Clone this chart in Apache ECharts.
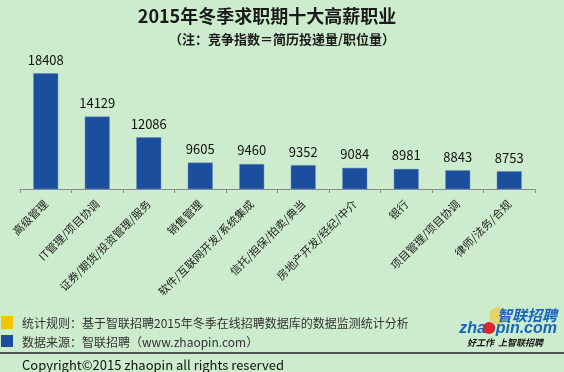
<!DOCTYPE html>
<html><head><meta charset="utf-8">
<script src="https://cdn.jsdelivr.net/npm/echarts@6/dist/echarts.min.js"></script>
<style>html,body{margin:0;padding:0;background:#cdeccd;}#c{width:564px;height:372px;}</style>
</head><body><div id="c"></div>
<script>
const categories = ['高级管理','IT管理/项目协调','证券/期货/投资管理/服务','销售管理','软件/互联网开发/系统集成','信托/担保/拍卖/典当','房地产开发/经纪/中介','银行','项目管理/项目协调','律师/法务/合规'];
const values = [18408,14129,12086,9605,9460,9352,9084,8981,8843,8753];
const titleText = '2015年冬季求职期十大高薪职业';
const subtitleText = '（注：竞争指数＝简历投递量/职位量）';
const footer1 = '统计规则：基于智联招聘2015年冬季在线招聘数据库的数据监测统计分析';
const footer2 = '数据来源：智联招聘（www.zhaopin.com）';
const copyright = 'Copyright©2015 zhaopin all rights reserved';
const F = '"Noto Sans CJK SC", "Noto Sans", sans-serif';
const chart = echarts.init(document.getElementById('c'));
chart.setOption({
  backgroundColor: '#cdeccd',
  animation: false,
  title: [
    {text: titleText, left: 262, textAlign: 'center', top: 2, textStyle: {fontFamily: F, fontSize: 18, fontWeight: 'bold', color: '#1a1a1a'}},
    {text: subtitleText, left: 277, textAlign: 'center', top: 28, textStyle: {fontFamily: F, fontSize: 13, fontWeight: 'bold', color: '#1a1a1a'}}
  ],
  grid: {left: 20, right: 29, top: 57, bottom: 183},
  xAxis: {type: 'category', data: categories, boundaryGap: true,
    axisLine: {lineStyle: {color: '#8a8a8a', width: 1}},
    axisTick: {show: true, lineStyle: {color: '#8a8a8a'}, length: 4},
    axisLabel: {rotate: 45, interval: 0, fontFamily: F, fontSize: 11, color: '#222', margin: 13}},
  yAxis: {type: 'value', min: 7000, max: 20000, show: false, splitLine: {show: false}},
  series: [{type: 'bar', data: values, barWidth: 25,
    itemStyle: {color: '#1b4f9e', borderColor: '#6f8fc4', borderWidth: 0.5},
    label: {show: true, position: 'top', distance: 7, fontFamily: F, fontSize: 13, color: '#111'}}],
  graphic: [
    {type: 'rect', shape: {x: 1, y: 316, width: 12, height: 13}, style: {fill: '#f5c400'}},
    {type: 'rect', shape: {x: 1, y: 335, width: 12, height: 12}, style: {fill: '#1b4f9e'}},
    {type: 'text', x: 22, y: 323, style: {text: footer1, font: '12px ' + F, fill: '#333', textVerticalAlign: 'middle'}},
    {type: 'text', x: 22, y: 342, style: {text: footer2, font: '12px ' + F, fill: '#333', textVerticalAlign: 'middle'}},
    {type: 'line', shape: {x1: 0, y1: 353, x2: 564, y2: 353}, style: {stroke: '#222', lineWidth: 1.5}},
    {type: 'text', x: 22, y: 365, style: {text: copyright, font: '13px ' + F, fill: '#111', textVerticalAlign: 'middle'}},
    {type: 'circle', shape: {cx: 498, cy: 316, r: 9}, style: {fill: '#f2c21a', opacity: 0.55}},
    {type: 'text', x: 557, y: 315, style: {text: '智联招聘', font: 'italic bold 15px ' + F, fill: '#1565c0', textAlign: 'right', textVerticalAlign: 'middle'}},
    {type: 'text', x: 557, y: 329, style: {text: 'zhaopin.com', font: 'italic bold 16px "Liberation Sans", sans-serif', fill: '#1565c0', textAlign: 'right', textVerticalAlign: 'middle'}},
    {type: 'circle', shape: {cx: 489, cy: 328, r: 6}, style: {fill: '#d8262c'}},
    {type: 'text', x: 543, y: 343, style: {text: '好工作  上智联招聘', font: 'italic bold 9px ' + F, fill: '#111', textAlign: 'right', textVerticalAlign: 'middle'}}
  ]
});
</script></body></html>
